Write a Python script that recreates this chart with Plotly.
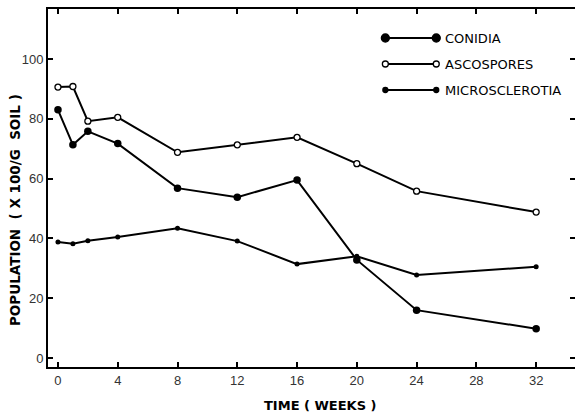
import plotly.graph_objects as go

weeks = [0, 1, 2, 4, 8, 12, 16, 20, 24, 32]
conidia = [83, 71.3, 75.8, 71.7, 56.8, 53.8, 59.5, 32.8, 16.0, 9.8]
ascospores = [90.6, 90.8, 79.2, 80.5, 68.8, 71.3, 73.8, 65.0, 55.8, 48.8]
microsclerotia = [38.8, 38.2, 39.2, 40.5, 43.4, 39.1, 31.4, 34.0, 27.8, 30.5]
x_ticks = [0, 4, 8, 12, 16, 20, 24, 28, 32]
y_ticks = [0, 20, 40, 60, 80, 100]
series_names = ["CONIDIA", "ASCOSPORES", "MICROSCLEROTIA"]

FONT = "Liberation Sans"
TITLE_FONT = "DejaVu Sans"
LEG_FONT = "DejaVu Sans"

FIG_W, FIG_H = 575, 417

fig = go.Figure()
fig.add_trace(go.Scatter(x=weeks, y=conidia, mode="lines+markers", name=series_names[0],
                         line=dict(color="black", width=2),
                         marker=dict(symbol="circle", size=7.5, color="black")))
fig.add_trace(go.Scatter(x=weeks, y=ascospores, mode="lines+markers", name=series_names[1],
                         line=dict(color="black", width=2),
                         marker=dict(symbol="circle", size=6, color="white",
                                     line=dict(color="black", width=1.3))))
fig.add_trace(go.Scatter(x=weeks, y=microsclerotia, mode="lines+markers", name=series_names[2],
                         line=dict(color="black", width=2),
                         marker=dict(symbol="circle", size=5, color="black")))

# plot-area edges in window pixels
L, R, T, B = 48, 576, 9, 367
W, H = R - L, B - T
def px(x):
    return (x - L) / W
def py(y):
    return (B - y) / H

shapes = []
annotations = []
legend_rows = [(38, "filled", 8), (64, "open", 6), (90, "filled", 5)]
for (ypix, style, size), name in zip(legend_rows, series_names):
    shapes.append(dict(type="line", xref="paper", yref="paper",
                       x0=px(386), x1=px(437), y0=py(ypix), y1=py(ypix),
                       line=dict(color="black", width=2)))
    for xpix in (386, 437):
        shapes.append(dict(type="circle", xref="paper", yref="paper",
                           xsizemode="pixel", ysizemode="pixel",
                           xanchor=px(xpix), yanchor=py(ypix),
                           x0=-size / 2, x1=size / 2, y0=-size / 2, y1=size / 2,
                           fillcolor="white" if style == "open" else "black",
                           line=dict(color="black", width=1.3)))
    annotations.append(dict(xref="paper", yref="paper", x=px(444), y=py(ypix),
                            xanchor="left", yanchor="middle", showarrow=False,
                            text=name, font=dict(family=LEG_FONT, size=13, color="black")))

annotations.append(dict(xref="paper", yref="paper", x=px(321), y=py(405),
                        xanchor="center", yanchor="middle", showarrow=False,
                        text="<b>TIME ( WEEKS )</b>",
                        font=dict(family=TITLE_FONT, size=13, color="black")))
annotations.append(dict(xref="paper", yref="paper", x=px(15), y=py(210),
                        xanchor="center", yanchor="middle", showarrow=False, textangle=-90,
                        text="<b>POPULATION  ( X 100/G  SOIL )</b>",
                        font=dict(family=TITLE_FONT, size=13.5, color="black")))

x0_px, x_scale = 58, 15.0
y0_px, y_scale = 358, 2.99
fig.update_layout(
    width=FIG_W, height=FIG_H,
    margin=dict(l=L, r=max(FIG_W - R, 0), t=T, b=FIG_H - B, autoexpand=False),
    paper_bgcolor="white", plot_bgcolor="white",
    showlegend=False,
    shapes=shapes, annotations=annotations,
    xaxis=dict(range=[(L - x0_px) / x_scale, (FIG_W + 2 - x0_px) / x_scale],
               tickvals=x_ticks, ticks="inside", ticklen=5, tickwidth=1.5, tickcolor="black",
               showline=True, linecolor="black", linewidth=2, mirror="ticks",
               showgrid=False, zeroline=False,
               tickfont=dict(family=FONT, size=13, color="#333")),
    yaxis=dict(range=[(y0_px - B) / y_scale, (y0_px - T) / y_scale],
               tickvals=y_ticks, ticks="inside", ticklen=5, tickwidth=1.5, tickcolor="black",
               showline=True, linecolor="black", linewidth=2, mirror="ticks",
               showgrid=False, zeroline=False,
               tickfont=dict(family=FONT, size=13, color="#333")),
)

fig.write_html("out.html", config={"displayModeBar": False},
               post_script="document.body.style.margin='0';document.body.style.overflow='hidden';")
